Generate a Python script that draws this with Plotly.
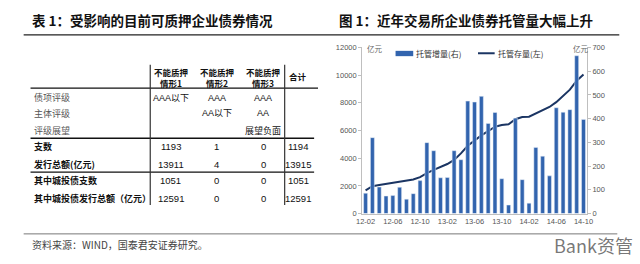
import plotly.graph_objects as go

# ---------------- data ----------------
months = ["12-02", "12-03", "12-04", "12-05", "12-06", "12-07", "12-08", "12-09", "12-10", "12-11", "12-12",
          "13-01", "13-02", "13-03", "13-04", "13-05", "13-06", "13-07", "13-08", "13-09", "13-10", "13-11",
          "13-12", "14-01", "14-02", "14-03", "14-04", "14-05", "14-06", "14-07", "14-08", "14-09", "14-10"]
increment = [86, 320, 112, 74, 76, 111, 61, 84, 139, 299, 265,
             151, 152, 265, 227, 474, 470, 494, 380, 426, 147, 36,
             402, 143, 44, 279, 242, 159, 446, 427, 438, 665, 397]
stock = [1680, 1980, 2070, 2140, 2210, 2330, 2370, 2460, 2630, 2930, 3160,
         3350, 3580, 3880, 4350, 4900, 5300, 5650, 5950, 6280, 6400, 6450,
         6820, 6980, 7000, 7250, 7500, 7700, 8050, 8480, 8950, 9600, 10050]
x_ticks = ["12-02", "12-06", "12-10", "13-02", "13-06", "13-10", "14-02", "14-06", "14-10"]

table_header = ["不能质押<br>情形1", "不能质押<br>情形2", "不能质押<br>情形3", "合计"]
row_labels = ["债项评级", "主体评级", "评级展望", "支数", "发行总额(亿元)", "其中城投债支数", "其中城投债发行总额（亿元）"]
table_values = [["AAA以下", "AAA", "AAA", ""],
                ["", "AA以下", "AA", ""],
                ["", "", "展望负面", ""],
                ["1193", "1", "0", "1194"],
                ["13911", "4", "0", "13915"],
                ["1051", "0", "0", "1051"],
                ["12591", "0", "0", "12591"]]

left_title = "<b>表 1：受影响的目前可质押企业债券情况</b>"
right_title = "<b>图 1：近年交易所企业债券托管量大幅上升</b>"
source_text = "资料来源：WIND，国泰君安证券研究。"
legend_bar = "托管增量(右)"
legend_line = "托管存量(左)"

# ---------------- helpers ----------------
W, H = 640, 264
def X(px): return px / W
def Y(py): return 1 - py / H

CJK = "Noto Sans CJK SC, Liberation Sans, sans-serif"
NUM = "Liberation Sans, Arial, Noto Sans CJK SC, sans-serif"

BAR_C = "#3264AE"
LINE_C = "#1B3563"

fig = go.Figure()
fig.add_trace(go.Bar(x=months, y=increment, yaxis="y2", marker_color=BAR_C,
                     name=legend_bar, showlegend=False))
fig.add_trace(go.Scatter(x=months, y=stock, yaxis="y", mode="lines",
                         line=dict(color=LINE_C, width=2), name=legend_line, showlegend=False))

axis_font = dict(family=NUM, size=7.5, color="#555555")
fig.update_layout(
    width=W, height=H, margin=dict(l=0, r=0, t=0, b=0),
    paper_bgcolor="white", plot_bgcolor="white",
    bargap=0.42,
    xaxis=dict(domain=[X(363), X(592)], type="category", range=[-0.5, 32.5],
               tickmode="array", tickvals=x_ticks, ticktext=x_ticks,
               tickangle=0, tickfont=axis_font, showgrid=False, zeroline=False,
               showline=True, linecolor="#BFBFBF", linewidth=1, ticks="", ticklen=0),
    yaxis=dict(domain=[Y(217), Y(45)], range=[0, 12000], dtick=2000, tickformat="d",
               tickfont=axis_font, showgrid=False, zeroline=False,
               showline=True, linecolor="#BFBFBF", linewidth=1,
               ticks="outside", ticklen=3, tickcolor="#BFBFBF"),
    yaxis2=dict(domain=[Y(217), Y(45)], range=[0, 700], dtick=100, overlaying="y",
                tickformat="d",
                side="right", anchor="x", tickfont=axis_font, showgrid=False,
                zeroline=False, showline=True, linecolor="#BFBFBF", linewidth=1,
                ticks="outside", ticklen=3, tickcolor="#BFBFBF"),
)

shapes = []
anns = []

def hline(y, x0, x1, color="black", width=1.3):
    shapes.append(dict(type="line", xref="paper", yref="paper", x0=X(x0), x1=X(x1),
                       y0=Y(y), y1=Y(y), line=dict(color=color, width=width)))

def vline(x, y0, y1, color="black", width=1.3):
    shapes.append(dict(type="line", xref="paper", yref="paper", x0=X(x), x1=X(x),
                       y0=Y(y0), y1=Y(y1), line=dict(color=color, width=width)))

def text(t, x, y, size, color="#111111", xanchor="left", family=CJK):
    anns.append(dict(text=t, x=X(x), y=Y(y), xref="paper", yref="paper", showarrow=False,
                     xanchor=xanchor, yanchor="middle", font=dict(family=family, size=size, color=color)))

# titles
text(left_title, 24, 17, 13.5, "#111111")
text(right_title, 337, 17, 13.5, "#111111")
hline(32, 18, 625, "#222222", 1.2)

# table
col_x = [168, 215, 262, 298]
row_y = [97, 113, 131, 148, 166, 183, 201]
for j, h in enumerate(table_header):
    yy = 76 if j < 3 else 75
    anns.append(dict(text="<b>" + h + "</b>", x=X(col_x[j]), y=Y(yy), xref="paper", yref="paper",
                     showarrow=False, xanchor="center", yanchor="middle", align="center",
                     font=dict(family=CJK, size=8.5, color="#111111")))
for i, lab in enumerate(row_labels):
    if i < 3:
        text(lab, 26, row_y[i], 9, "#555555")
    else:
        text("<b>" + lab + "</b>", 26, row_y[i], 9, "#111111")
    for j, v in enumerate(table_values[i]):
        if v:
            text(v, col_x[j], row_y[i], 9.5 if i >= 3 else 9, "#111111", "center", NUM)

hline(87, 25, 318, "#111111", 1.3)
hline(139, 25, 314, "#111111", 1.3)
hline(174, 25, 314, "#111111", 1.3)
vline(147, 63, 208, "#333333", 1.2)
vline(284, 63, 208, "#333333", 1.2)

# source line
hline(238, 18, 623, "#777777", 1)
text(source_text, 24, 249, 10, "#444444")

# chart decorations
text("亿元", 366, 46, 7.5, "#666666")
text("亿元", 576, 46, 7.5, "#666666")
shapes.append(dict(type="rect", xref="paper", yref="paper", x0=X(397), x1=X(415),
                   y0=Y(54), y1=Y(48.5), fillcolor=BAR_C, line=dict(width=0)))
text(legend_bar, 416, 51, 8, "#333333")
hline(51, 481, 498, LINE_C, 2)
text(legend_line, 499, 51, 8, "#333333")

# watermark
text("Bank资管", 556, 249, 18, "rgba(60,60,60,0.7)")

fig.update_layout(shapes=shapes, annotations=anns)
fig.write_html("out.html")
